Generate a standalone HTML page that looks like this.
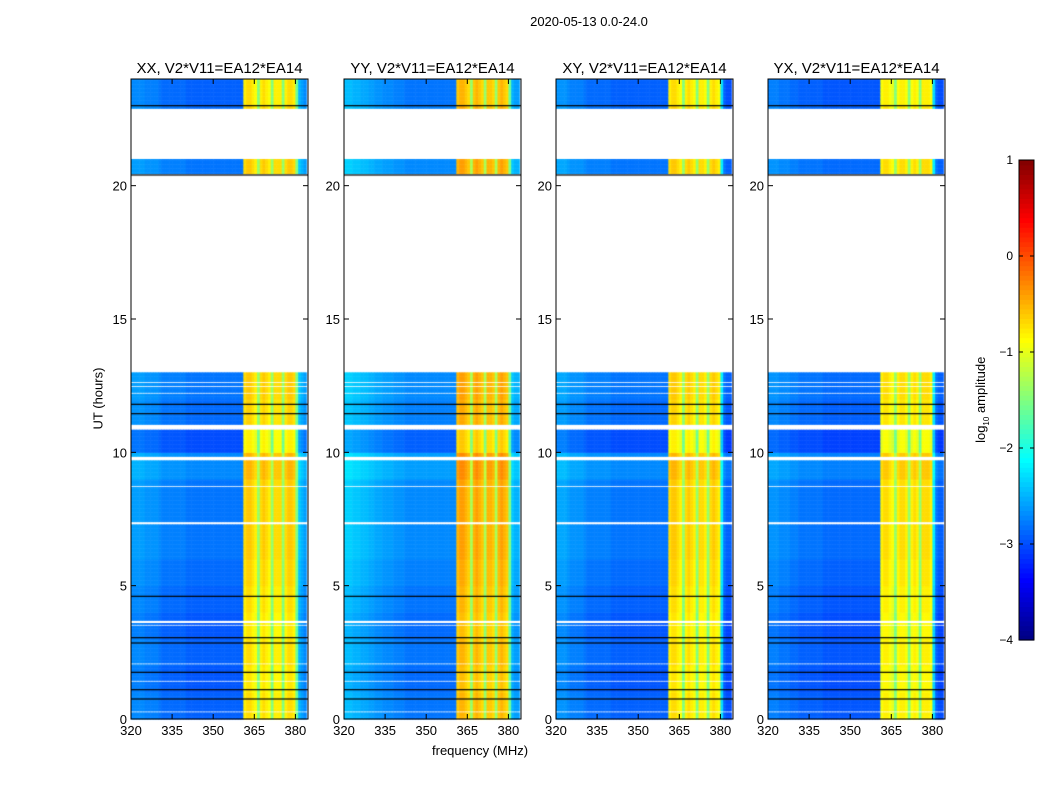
<!DOCTYPE html>
<html><head><meta charset="utf-8">
<style>
body{margin:0;background:#fff;font-family:"Liberation Sans",sans-serif;}
#wrap{position:relative;width:1050px;height:800px;overflow:hidden;background:#fff;}
.t{position:absolute;color:#000;white-space:nowrap;}
canvas{position:absolute;}
</style></head><body>
<div id="wrap">
<div class="t" style="left:489px;top:14px;width:200px;text-align:center;font-size:13px">2020-05-13 0.0-24.0</div>
<div class="t" style="top:743px;font-size:13px;left:432px">frequency (MHz)</div>
<div class="t" style="left:48px;top:391px;width:100px;text-align:center;font-size:13px;transform:rotate(-90deg)">UT (hours)</div>
<div class="t" style="left:932px;top:391px;width:100px;text-align:center;font-size:13px;transform:rotate(-90deg)">log<sub style="font-size:8px">10</sub> amplitude</div>
<svg id="svg" width="1050" height="800" style="position:absolute;left:0;top:0"></svg>
</div>
<script>
// ---- data ----
const panelTitles = ["XX, V2*V11=EA12*EA14","YY, V2*V11=EA12*EA14","XY, V2*V11=EA12*EA14","YX, V2*V11=EA12*EA14"];
const xTicks = [320,335,350,365,380];
const yTicks = [0,5,10,15,20];
const cbTicks = [1,0,-1,-2,-3,-4];
// frequency profiles (log10 amplitude), 1 MHz bins from 320 to 384
const profXX = [-2.7,-2.7,-2.7,-2.7,-2.7,-2.75,-2.75,-2.75,-2.75,-2.75,-2.8,-2.85,-2.85,-2.85,-2.85,-2.85,-2.85,-2.85,-2.85,-2.85,-2.9,-2.9,-2.9,-2.9,-2.9,-2.9,-2.9,-2.9,-2.9,-2.9,-2.9,-2.9,-2.9,-2.9,-2.9,-2.9,-2.9,-2.9,-2.9,-2.9,-2.9,-0.8,-0.7,-0.7,-0.8,-0.9,-1.5,-0.8,-0.7,-0.8,-0.9,-1.5,-0.8,-0.8,-0.8,-1.5,-0.8,-0.7,-0.7,-0.8,-1.6,-2.5,-2.6,-2.7];
const profYY = [-2.45,-2.45,-2.45,-2.5,-2.5,-2.5,-2.55,-2.55,-2.55,-2.6,-2.6,-2.65,-2.65,-2.65,-2.7,-2.7,-2.7,-2.7,-2.75,-2.75,-2.75,-2.75,-2.8,-2.8,-2.8,-2.8,-2.8,-2.8,-2.8,-2.8,-2.8,-2.8,-2.8,-2.8,-2.8,-2.8,-2.8,-2.8,-2.8,-2.8,-2.8,-0.6,-0.5,-0.5,-0.6,-0.7,-1.4,-0.6,-0.5,-0.6,-0.7,-1.4,-0.6,-0.6,-0.7,-1.4,-0.6,-0.5,-0.6,-0.7,-1.6,-2.5,-2.6,-2.6];
const profXY = [-2.65,-2.65,-2.65,-2.65,-2.7,-2.75,-2.75,-2.75,-2.75,-2.75,-2.8,-2.85,-2.85,-2.85,-2.85,-2.85,-2.85,-2.85,-2.85,-2.85,-2.9,-2.9,-2.9,-2.9,-2.9,-2.9,-2.9,-2.9,-2.9,-2.9,-2.9,-2.9,-2.9,-2.9,-2.9,-2.9,-2.9,-2.9,-2.9,-2.9,-2.9,-0.8,-0.7,-0.7,-0.8,-0.9,-1.5,-0.8,-0.7,-0.8,-0.9,-1.5,-0.8,-0.8,-0.9,-1.5,-0.8,-0.7,-0.8,-0.9,-2.3,-2.9,-3.0,-3.0];
const profYX = [-2.75,-2.75,-2.75,-2.75,-2.8,-2.8,-2.8,-2.8,-2.85,-2.85,-2.85,-2.9,-2.9,-2.9,-2.9,-2.9,-2.9,-2.9,-2.9,-2.9,-2.95,-2.95,-2.95,-2.95,-2.95,-2.95,-2.95,-2.95,-2.95,-2.95,-2.95,-2.95,-2.95,-2.95,-2.95,-2.95,-2.95,-2.95,-2.95,-2.95,-2.95,-0.9,-0.8,-0.8,-0.9,-1.0,-1.5,-0.9,-0.8,-0.8,-0.9,-1.5,-0.9,-0.8,-0.9,-1.5,-0.8,-0.8,-0.8,-0.9,-2.3,-2.9,-3.0,-3.0];
// hourly level offsets (0..23 h)
const hourOffset = [0.0,-0.05,0.0,-0.05,0.0,0.05,0.1,0.1,0.1,0.2,-0.1,0.05,0.1,0,0,0,0,0,0,0,0.1,0,0.05,0.0];
// flagged (blank) intervals in hours
const flagStart = [13.0,21.0,9.7,10.85,12.45,12.6,3.5,3.62,7.3,8.7,11.0,0.25,1.4,2.05,12.2];
const flagEnd   = [20.45,22.9,9.85,11.0,12.5,12.65,3.56,3.68,7.38,8.76,11.05,0.29,1.44,2.1,12.24];
// black horizontal lines (hours)
const blackLines = [0.75,1.1,1.75,2.85,3.05,4.6,11.8,20.4,23.0,11.45];
const profiles = [profXX,profYY,profXY,profYX];

const PL=[131,344,556,768], PW=177, PT=79, PB=719;
const fMin=320,fMax=384.6,tMax=24;
function xs(p,f){return PL[p]+(f-fMin)/(fMax-fMin)*PW;}
function ys(t){return PB-t/tMax*(PB-PT);}
function jet(v){
  let x=(v+4)/5; x=Math.max(0,Math.min(1,x));
  const c=a=>Math.round(255*Math.max(0,Math.min(1,a)));
  return `rgb(${c(1.5-Math.abs(4*x-3))},${c(1.5-Math.abs(4*x-2))},${c(1.5-Math.abs(4*x-1))})`;
}
function flagged(t){for(let i=0;i<flagStart.length;i++){if(t>=flagStart[i]&&t<flagEnd[i])return true;}return false;}
const wrap=document.getElementById('wrap');
const svg=document.getElementById('svg');
const NS="http://www.w3.org/2000/svg";
function mk(tag,attrs,parent){const e=document.createElementNS(NS,tag);for(const k in attrs)e.setAttribute(k,attrs[k]);(parent||svg).appendChild(e);return e;}
const dt=0.05;
for(let p=0;p<4;p++){
  const cv=document.createElement('canvas');
  
  
  cv.width=1050;cv.height=800;cv.style.left='0px';cv.style.top='0px';
  wrap.insertBefore(cv,svg);
  const ctx=cv.getContext('2d');
  const prof=profiles[p];
  for(let r=0;r<tMax/dt;r++){
    const t=r*dt;
    if(flagged(t+dt/2))continue;
    const off=hourOffset[Math.floor(t)];
    const y0=ys(t+dt),y1=ys(t);
    for(let i=0;i<prof.length;i++){
      const x0=xs(p,fMin+i),x1=xs(p,Math.min(fMin+i+1,fMax));
      ctx.fillStyle=jet(prof[i]+off);
      ctx.fillRect(x0,y0,x1-x0+0.5,y1-y0+0.5);
    }
  }
  ctx.fillStyle='#000';
  blackLines.forEach(b=>{ctx.fillRect(PL[p],ys(b)-0.6,PW,1.2);});
  const g=mk('g',{});
  
  
  mk('rect',{x:PL[p],y:PT,width:PW,height:PB-PT,fill:'none',stroke:'#000','stroke-width':1},g);
  const tt=mk('text',{x:PL[p]+PW/2,y:73,'text-anchor':'middle','font-size':15,'font-family':'Liberation Sans'},g);
  tt.textContent=panelTitles[p];
  xTicks.forEach(f=>{
    const x=xs(p,f);
    mk('line',{x1:x,x2:x,y1:PB,y2:PB-5,stroke:'#000'},g);
    mk('line',{x1:x,x2:x,y1:PT,y2:PT+5,stroke:'#000'},g);
    const l=mk('text',{x:x,y:PB+16,'text-anchor':'middle','font-size':13,'font-family':'Liberation Sans'},g);
    l.textContent=f;
  });
  yTicks.forEach(t=>{
    const y=ys(t);
    mk('line',{x1:PL[p],x2:PL[p]+5,y1:y,y2:y,stroke:'#000'},g);
    mk('line',{x1:PL[p]+PW,x2:PL[p]+PW-5,y1:y,y2:y,stroke:'#000'},g);
    const l=mk('text',{x:PL[p]-4,y:y+5,'text-anchor':'end','font-size':13,'font-family':'Liberation Sans'},g);
    l.textContent=t;
  });
}
// colorbar
const CX=1019,CW=15,CT=160,CB=640;
const cb=mk('g',{});


for(let i=0;i<100;i++){
  const v=-4+5*(i+0.5)/100;
  const y=CB-(i+1)*(CB-CT)/100;
  mk('rect',{x:CX,y:y,width:CW,height:(CB-CT)/100+0.6,fill:jet(v)},cb);
}
mk('rect',{x:CX,y:CT,width:CW,height:CB-CT,fill:'none',stroke:'#000'},cb);
cbTicks.forEach(v=>{
  const y=CB-(v+4)/5*(CB-CT);
  mk('line',{x1:CX,x2:CX+4,y1:y,y2:y,stroke:'#000'},cb);
  mk('line',{x1:CX+CW,x2:CX+CW-4,y1:y,y2:y,stroke:'#000'},cb);
  const l=mk('text',{x:1013,y:y+4,'text-anchor':'end','font-size':12,'font-family':'Liberation Sans'},cb);
  l.textContent=v<0?'\u2212'+(-v):String(v);
});
</script>
</body></html>
